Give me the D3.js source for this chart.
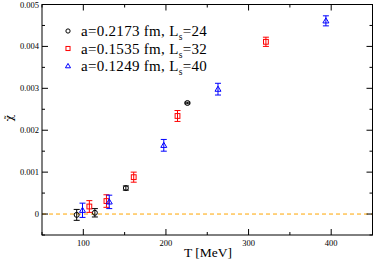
<!DOCTYPE html>
<html>
<head>
<meta charset="utf-8">
<script src="https://cdn.jsdelivr.net/npm/d3@7"></script>
<style>
  body { margin: 0; background: #fff; }
  svg { display: block; font-family: "Liberation Serif", "DejaVu Serif", serif; }
</style>
</head>
<body>
<svg id="chart" width="374" height="261"></svg>
<script>
const width = 374;
const height = 261;
const margin = { top: 4.5, right: 1.5, bottom: 26, left: 42 };

// series: temperature [MeV], chi value, error
const coarseT   = [92, 114, 151.5, 226];
const coarseChi = [-0.00002, 0.00003, 0.00062, 0.00265];
const coarseErr = [0.00013, 0.0001, 0.00005, 0.00002];

const mediumT   = [107.3, 128, 161, 214, 321];
const mediumChi = [0.00018, 0.00031, 0.00088, 0.00234, 0.00411];
const mediumErr = [0.00014, 0.00015, 0.00012, 0.00013, 0.00011];

const fineT   = [99, 131.4, 197.4, 263, 393.6];
const fineChi = [0.00009, 0.00029, 0.00164, 0.00298, 0.00461];
const fineErr = [0.00017, 0.00016, 0.00014, 0.00014, 0.00012];

const xTicks = [100, 200, 300, 400];
const yTicks = [0, 0.001, 0.002, 0.003, 0.004, 0.005];
const yTickLabels = ["0", "0.001", "0.002", "0.003", "0.004", "0.005"];

const series = [
  { name: "a=0.2173 fm, L", sub: "s", tail: "=24", T: coarseT, chi: coarseChi, err: coarseErr, color: "#000000", shape: "circle" },
  { name: "a=0.1535 fm, L", sub: "s", tail: "=32", T: mediumT, chi: mediumChi, err: mediumErr, color: "#ff0000", shape: "square" },
  { name: "a=0.1249 fm, L", sub: "s", tail: "=40", T: fineT, chi: fineChi, err: fineErr, color: "#0000ff", shape: "triangle" }
];

const svg = d3.select("#chart");

const x = d3.scaleLinear().domain([50, 450]).range([margin.left, width - margin.right]);
const y = d3.scaleLinear().domain([-0.0005, 0.005]).range([height - margin.bottom, margin.top]);

const x0 = margin.left, x1 = width - margin.right;
const y0 = height - margin.bottom, y1 = margin.top;

// zero line
svg.append("line")
  .attr("x1", x0).attr("x2", x1)
  .attr("y1", y(0)).attr("y2", y(0))
  .attr("stroke", "#ffa500")
  .attr("stroke-width", 1)
  .attr("stroke-dasharray", "4,3");

// frame
svg.append("rect")
  .attr("x", x0).attr("y", y1)
  .attr("width", x1 - x0).attr("height", y0 - y1)
  .attr("fill", "none").attr("stroke", "#000").attr("stroke-width", 1);

// ticks (inward, mirrored)
const xMinor = d3.range(50, 451, 50).filter(v => !xTicks.includes(v));
const yMinor = d3.range(-0.0005, 0.00501, 0.001).map(v => +v.toFixed(4));

const tg = svg.append("g").attr("stroke", "#000").attr("stroke-width", 1);
xTicks.forEach(v => {
  tg.append("line").attr("x1", x(v)).attr("x2", x(v)).attr("y1", y0).attr("y2", y0 - 6);
  tg.append("line").attr("x1", x(v)).attr("x2", x(v)).attr("y1", y1).attr("y2", y1 + 6);
});
xMinor.forEach(v => {
  tg.append("line").attr("x1", x(v)).attr("x2", x(v)).attr("y1", y0).attr("y2", y0 - 3);
  tg.append("line").attr("x1", x(v)).attr("x2", x(v)).attr("y1", y1).attr("y2", y1 + 3);
});
yTicks.forEach(v => {
  tg.append("line").attr("x1", x0).attr("x2", x0 + 6).attr("y1", y(v)).attr("y2", y(v));
  tg.append("line").attr("x1", x1).attr("x2", x1 - 6).attr("y1", y(v)).attr("y2", y(v));
});
yMinor.forEach(v => {
  tg.append("line").attr("x1", x0).attr("x2", x0 + 3).attr("y1", y(v)).attr("y2", y(v));
  tg.append("line").attr("x1", x1).attr("x2", x1 - 3).attr("y1", y(v)).attr("y2", y(v));
});

// tick labels
svg.append("g").selectAll("text").data(xTicks).join("text")
  .attr("x", d => x(d)).attr("y", y0 + 11)
  .attr("text-anchor", "middle").attr("font-size", 8.5)
  .text(d => d);

svg.append("g").selectAll("text").data(yTicks).join("text")
  .attr("x", x0 - 3).attr("y", d => y(d) + 3)
  .attr("text-anchor", "end").attr("font-size", 8.5)
  .text((d, i) => yTickLabels[i]);

// axis labels
svg.append("text")
  .attr("x", 208).attr("y", 257)
  .attr("text-anchor", "middle").attr("font-size", 13.5)
  .text("T [MeV]");

svg.append("text")
  .attr("transform", "translate(13,118) rotate(-90)")
  .attr("font-family", "DejaVu Serif")
  .attr("font-size", 10.5).attr("text-anchor", "middle")
  .text("\u03c7\u0303");

// markers
function drawMarker(g, shape, color, cx, cy, k) {
  if (shape === "circle") {
    g.append("circle").attr("cx", cx).attr("cy", cy).attr("r", 2.5 * k)
      .attr("fill", "none").attr("stroke", color).attr("stroke-width", 1);
  } else if (shape === "square") {
    const h = 2.4 * k;
    g.append("rect").attr("x", cx - h).attr("y", cy - h).attr("width", 2 * h).attr("height", 2 * h)
      .attr("fill", "none").attr("stroke", color).attr("stroke-width", 1);
  } else {
    const s = 3 * k;
    g.append("path")
      .attr("d", `M${cx},${cy - s}L${cx + s},${cy + s * 0.7}L${cx - s},${cy + s * 0.7}Z`)
      .attr("fill", "none").attr("stroke", color).attr("stroke-width", 1);
  }
}

series.forEach(s => {
  const g = svg.append("g");
  s.T.forEach((t, i) => {
    const cx = x(t), lo = y(s.chi[i] - s.err[i]), hi = y(s.chi[i] + s.err[i]);
    g.append("line").attr("x1", cx).attr("x2", cx).attr("y1", lo).attr("y2", hi)
      .attr("stroke", s.color).attr("stroke-width", 1);
    [lo, hi].forEach(yy => {
      g.append("line").attr("x1", cx - 3).attr("x2", cx + 3).attr("y1", yy).attr("y2", yy)
        .attr("stroke", s.color).attr("stroke-width", 1);
    });
    drawMarker(g, s.shape, s.color, cx, y(s.chi[i]), 1);
  });
});

// legend
const legendY = [31, 48.5, 66];
series.forEach((s, i) => {
  const g = svg.append("g");
  drawMarker(g, s.shape, s.color, 68, legendY[i], 0.85);
  const t = g.append("text").attr("x", 81).attr("y", legendY[i] + 5)
    .attr("font-size", 15).attr("letter-spacing", 0.3);
  t.append("tspan").text(s.name);
  t.append("tspan").attr("dy", 4).attr("font-size", 9.5).text(s.sub);
  t.append("tspan").attr("dy", -4).text(s.tail);
});
</script>
</body>
</html>
